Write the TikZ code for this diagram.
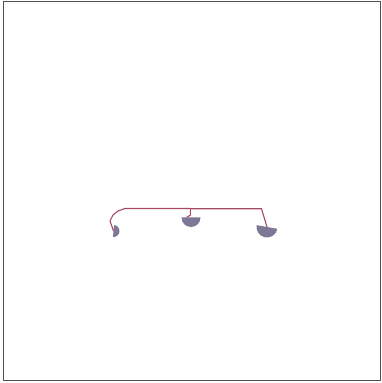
\documentclass[tikz,border=0pt]{standalone}
\definecolor{linkc}{RGB}{166,74,98}
\definecolor{leafc}{RGB}{126,119,150}
\definecolor{framec}{RGB}{80,80,80}
\begin{document}
\begin{tikzpicture}[x=1pt,y=1pt,
  link/.style={draw=linkc,line width=1.1pt,line join=round},
  leaf/.style={fill=leafc,draw=none},
  frame/.style={draw=framec,line width=1.3pt}]
\useasboundingbox (0,0) rectangle (382,383);
\draw[frame] (3.5,2.5) rectangle (380.5,381.5);
% leaf centres
\coordinate (A) at (113.5,152);
\coordinate (B) at (191,165.5);
\coordinate (C) at (267,156);
% leaves (half disks)
\fill[leaf] (A) ++(-95:6) arc[start angle=-95,end angle=85,radius=6] -- cycle;
\fill[leaf] (B) ++(180:9.5) arc[start angle=180,end angle=360,radius=9.5] -- cycle;
\fill[leaf] (C) ++(170:10.5) arc[start angle=170,end angle=350,radius=10.5] -- cycle;
% junction and bends
\coordinate (J) at (190.3,174.5);
\coordinate (a1) at (110,162);
\coordinate (a2) at (113,168);
\coordinate (a3) at (118,172);
\coordinate (a4) at (125,174.5);
\coordinate (b1) at (190.3,167.8);
\coordinate (b2) at (186.5,165.5);
\coordinate (c1) at (261.5,174.2);
\coordinate (c2) at (190.3,174.2);
\draw[link] (A) -- (a1) -- (a2) -- (a3) -- (a4) -- (J);
\draw[link] (J) -- (b1) -- (b2);
\draw[link] (c2) -- (c1) -- (C);
\end{tikzpicture}
\end{document}
